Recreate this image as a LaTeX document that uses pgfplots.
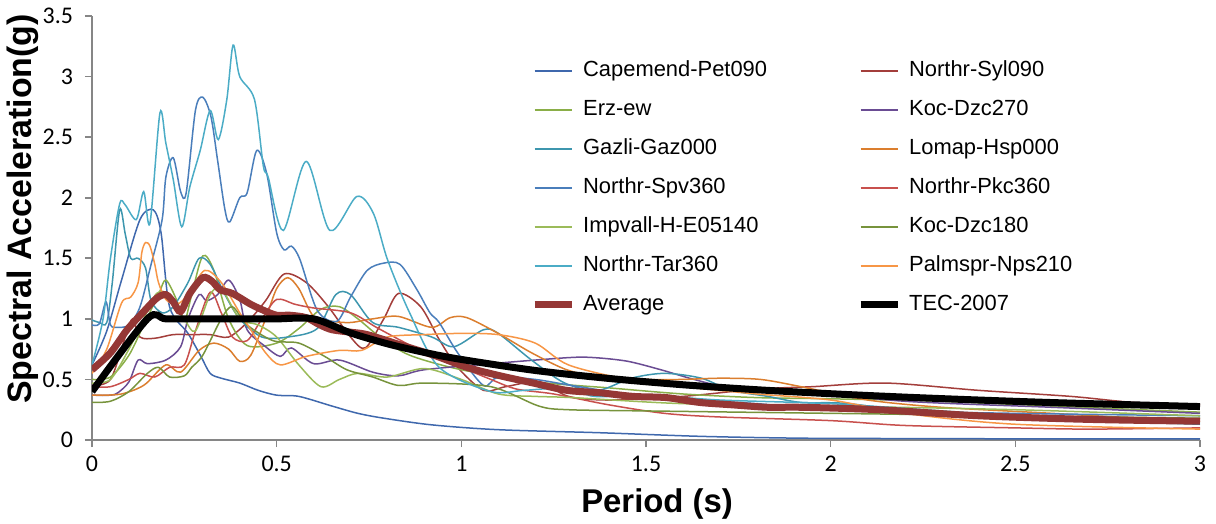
\documentclass[border=0pt]{standalone}
\usepackage{fontspec}
\setmainfont{Liberation Sans}
\newfontfamily\carlito{Carlito}
\usepackage{pgfplots}
\pgfplotsset{compat=1.18}

\definecolor{axisgray}{HTML}{868686}
\definecolor{capemend}{HTML}{3F68AD}
\definecolor{syl}{HTML}{A33E3B}
\definecolor{erz}{HTML}{8AAE48}
\definecolor{kocb}{HTML}{6A4C93}
\definecolor{gazli}{HTML}{3D96AE}
\definecolor{lomap}{HTML}{DB7E2E}
\definecolor{spv}{HTML}{4A7EBB}
\definecolor{pkc}{HTML}{C8504D}
\definecolor{impvall}{HTML}{9BBB59}
\definecolor{koca}{HTML}{77933C}
\definecolor{tar}{HTML}{4BACC6}
\definecolor{palm}{HTML}{F79646}
\definecolor{avg}{HTML}{953735}

\begin{document}
\begin{tikzpicture}
\useasboundingbox (-46bp,-42bp) rectangle (562bp,220bp);
\begin{axis}[
    width=554bp, height=212bp, scale only axis,
    xmin=0, xmax=3, ymin=0, ymax=3.5,
    axis lines*=left,
    axis line style={draw=axisgray, line width=0.8bp},
    xtick={0,0.5,1,1.5,2,2.5,3},
    ytick={0,0.5,1,1.5,2,2.5,3,3.5},
    tick align=outside, major tick length=3.5bp,
    tick style={draw=axisgray, line width=0.8bp},
    tick label style={font=\carlito\fontsize{12}{14}\selectfont},
    /pgf/number format/assume math mode=true,
    yticklabel style={xshift=-2.5bp},
    xticklabel style={yshift=-1bp},
    xlabel={Period (s)},
    ylabel={Spectral Acceleration(g)},
    xlabel style={font=\bfseries\fontsize{16.5}{18}\selectfont, at={(axis description cs:0.51,-0.151)}, anchor=center},
    ylabel style={font=\bfseries\fontsize{17}{19}\selectfont, at={(axis description cs:-0.0625,0.545)}, anchor=center},
    legend cell align=left,
    legend columns=2,
    legend image code/.code={\draw[#1] (0bp,0bp) -- (18.5bp,0bp); \path (21.5bp,0bp);},
    legend style={draw=none, fill=none, inner sep=0pt,
        at={(axis description cs:0.396,0.901)}, anchor=north west,
        font=\fontsize{11}{13}\selectfont, row sep=7bp,
        nodes={inner sep=1pt, text height=8bp, text depth=2.5bp},
        /tikz/every even column/.append style={column sep=44bp}},
    every axis plot/.append style={smooth, line width=0.75bp},
]

% Capemend-Pet090
\addplot[capemend] coordinates {
(0,0.62)(0.04,0.9)(0.08,1.32)(0.13,1.82)(0.166,1.9)(0.187,1.71)(0.21,1.10)(0.26,0.88)
(0.295,0.69)(0.32,0.55)(0.35,0.51)(0.4,0.47)(0.45,0.41)(0.5,0.37)(0.56,0.36)(0.65,0.28)
(0.72,0.22)(0.79,0.18)(0.92,0.125)(1.1,0.085)(1.375,0.06)(1.65,0.03)(1.92,0.015)
(2.2,0.012)(2.5,0.01)(3,0.01)};

% Northr-Syl090
\addplot[syl] coordinates {
(0,0.45)(0.05,0.5)(0.09,0.85)(0.11,1.0)(0.13,0.85)(0.17,0.84)(0.22,0.87)(0.27,0.87)
(0.32,0.87)(0.37,0.85)(0.42,0.97)(0.47,1.15)(0.52,1.37)(0.58,1.3)(0.64,1.1)(0.7,0.85)
(0.74,0.76)(0.79,1.0)(0.83,1.21)(0.89,1.1)(0.94,0.83)(0.99,0.6)(1.06,0.41)(1.12,0.44)
(1.21,0.48)(1.29,0.36)(1.4,0.33)(1.6,0.36)(1.8,0.42)(1.95,0.44)(2.15,0.47)(2.4,0.41)
(2.65,0.36)(2.82,0.31)(3,0.29)};

% Erz-ew
\addplot[erz] coordinates {
(0,0.5)(0.05,0.52)(0.1,0.7)(0.14,0.95)(0.18,1.2)(0.2,1.32)(0.23,1.15)(0.25,0.98)
(0.27,1.2)(0.3,1.52)(0.33,1.4)(0.37,1.0)(0.42,0.78)(0.5,0.8)(0.56,0.92)(0.62,1.08)
(0.67,1.1)(0.72,1.0)(0.78,0.85)(0.86,0.7)(1.0,0.58)(1.2,0.48)(1.4,0.43)(1.6,0.38)
(1.8,0.35)(2.0,0.34)(2.3,0.32)(2.6,0.28)(3,0.23)};

% Koc-Dzc270
\addplot[kocb] coordinates {
(0,0.37)(0.05,0.37)(0.07,0.39)(0.1,0.48)(0.125,0.66)(0.15,0.63)(0.2,0.66)(0.24,0.77)
(0.26,1.0)(0.29,1.2)(0.31,1.15)(0.34,1.2)(0.37,1.32)(0.40,1.16)(0.42,0.91)(0.47,0.77)
(0.51,0.69)(0.54,0.76)(0.6,0.63)(0.67,0.66)(0.76,0.56)(0.83,0.53)(0.9,0.58)(1.08,0.63)
(1.29,0.68)(1.36,0.68)(1.45,0.65)(1.54,0.58)(1.63,0.50)(1.72,0.44)(1.9,0.41)(2.2,0.32)
(2.6,0.27)(3,0.22)};

% Gazli-Gaz000
\addplot[gazli] coordinates {
(0,0.99)(0.02,0.97)(0.04,0.97)(0.055,1.3)(0.075,1.9)(0.09,1.7)(0.105,1.5)(0.125,1.5)
(0.145,1.42)(0.16,1.15)(0.19,1.05)(0.22,1.1)(0.26,1.3)(0.29,1.5)(0.32,1.45)(0.36,1.2)
(0.4,1.0)(0.46,0.85)(0.53,0.85)(0.61,0.92)(0.66,1.2)(0.7,1.2)(0.76,0.97)(0.83,0.93)
(0.92,0.85)(0.98,0.77)(1.06,0.91)(1.1,0.88)(1.19,0.66)(1.28,0.47)(1.37,0.41)(1.46,0.51)
(1.55,0.55)(1.65,0.51)(1.73,0.41)(1.83,0.36)(1.92,0.31)(2.05,0.3)(2.3,0.2)(2.6,0.17)(3,0.13)};

% Lomap-Hsp000
\addplot[lomap] coordinates {
(0,0.37)(0.04,0.37)(0.08,0.38)(0.12,0.42)(0.148,0.47)(0.2,0.62)(0.24,0.56)(0.29,0.74)
(0.33,0.8)(0.37,0.75)(0.4,0.65)(0.43,0.7)(0.47,1.0)(0.5,1.25)(0.53,1.34)(0.56,1.25)
(0.6,1.02)(0.65,0.98)(0.7,0.97)(0.76,1.0)(0.83,1.02)(0.92,0.93)(0.97,1.01)(1.015,1.01)
(1.1,0.88)(1.19,0.72)(1.285,0.58)(1.375,0.52)(1.5,0.5)(1.6,0.5)(1.7,0.51)(1.81,0.5)
(1.92,0.44)(2.1,0.33)(2.3,0.27)(2.6,0.22)(3,0.15)};

% Northr-Spv360
\addplot[spv] coordinates {
(0,0.95)(0.02,0.96)(0.038,1.14)(0.05,0.95)(0.07,0.93)(0.1,0.95)(0.13,1.1)(0.16,1.45)
(0.19,1.82)(0.2,2.17)(0.22,2.33)(0.24,2.05)(0.255,2.04)(0.28,2.72)(0.30,2.83)(0.322,2.67)
(0.34,2.31)(0.36,1.9)(0.373,1.8)(0.40,2.0)(0.42,2.04)(0.446,2.39)(0.473,2.2)(0.5,1.71)
(0.52,1.57)(0.54,1.6)(0.563,1.49)(0.61,1.07)(0.663,0.98)(0.70,1.18)(0.745,1.40)(0.79,1.46)
(0.834,1.45)(0.88,1.24)(0.915,1.05)(0.94,0.97)(0.99,0.72)(1.06,0.45)(1.10,0.52)(1.2,0.5)
(1.3,0.45)(1.5,0.36)(1.8,0.3)(2.0,0.25)(2.5,0.22)(3,0.2)};

% Northr-Pkc360
\addplot[pkc] coordinates {
(0,0.44)(0.05,0.44)(0.1,0.5)(0.13,0.55)(0.17,0.52)(0.21,0.6)(0.25,0.62)(0.28,0.9)
(0.32,1.22)(0.35,1.05)(0.38,0.85)(0.42,0.82)(0.46,1.0)(0.5,1.16)(0.55,1.12)(0.6,1.09)
(0.7,1.05)(0.77,0.93)(0.85,0.8)(0.92,0.7)(1.0,0.6)(1.08,0.5)(1.15,0.42)(1.25,0.38)
(1.4,0.29)(1.55,0.22)(1.7,0.19)(2.0,0.16)(2.2,0.12)(2.5,0.1)(2.7,0.09)(3,0.1)};

% Impvall-H-E05140
\addplot[impvall] coordinates {
(0,0.47)(0.05,0.5)(0.1,0.75)(0.14,1.0)(0.175,1.21)(0.21,1.2)(0.25,1.0)(0.28,0.9)
(0.32,1.2)(0.35,1.25)(0.4,1.0)(0.45,0.95)(0.5,0.85)(0.56,0.62)(0.62,0.44)(0.67,0.5)
(0.72,0.55)(0.8,0.52)(0.9,0.59)(1.0,0.5)(1.1,0.38)(1.2,0.36)(1.3,0.35)(1.6,0.3)
(2.0,0.28)(2.5,0.25)(3,0.2)};

% Koc-Dzc180
\addplot[koca] coordinates {
(0,0.31)(0.05,0.32)(0.1,0.4)(0.15,0.55)(0.18,0.6)(0.21,0.52)(0.25,0.53)(0.27,0.6)
(0.3,0.7)(0.35,1.0)(0.38,1.1)(0.42,0.95)(0.49,0.82)(0.56,0.8)(0.63,0.69)(0.69,0.58)
(0.76,0.52)(0.83,0.45)(0.9,0.47)(1.08,0.44)(1.21,0.28)(1.29,0.25)(1.5,0.24)(2.0,0.22)
(2.5,0.2)(3,0.18)};

% Northr-Tar360
\addplot[tar] coordinates {
(0,0.62)(0.03,1.0)(0.05,1.5)(0.075,1.95)(0.09,1.94)(0.12,1.82)(0.14,2.05)(0.157,1.79)
(0.184,2.70)(0.2,2.45)(0.22,2.15)(0.243,1.76)(0.265,2.09)(0.293,2.39)(0.32,2.72)(0.342,2.48)
(0.365,2.81)(0.382,3.26)(0.40,3.0)(0.44,2.81)(0.464,2.26)(0.477,2.17)(0.518,1.73)(0.58,2.30)
(0.644,1.73)(0.717,2.01)(0.762,1.87)(0.80,1.49)(0.86,1.05)(0.94,0.60)(1.08,0.40)(1.17,0.41)
(1.29,0.43)(1.36,0.36)(1.51,0.37)(1.7,0.33)(2.0,0.3)(2.3,0.24)(2.6,0.18)(3,0.14)};

% Palmspr-Nps210
\addplot[palm] coordinates {
(0,0.55)(0.04,0.75)(0.08,1.13)(0.105,1.18)(0.125,1.30)(0.135,1.55)(0.145,1.63)(0.157,1.6)
(0.17,1.45)(0.18,1.30)(0.2,1.16)(0.23,1.12)(0.26,1.2)(0.305,1.40)(0.35,1.3)(0.4,1.05)
(0.43,0.91)(0.47,0.72)(0.51,0.62)(0.58,0.69)(0.67,0.74)(0.73,0.74)(0.8,0.85)(0.9,0.87)
(1.0,0.88)(1.1,0.87)(1.2,0.8)(1.29,0.62)(1.45,0.5)(1.6,0.44)(1.8,0.38)(2.0,0.33)
(2.2,0.22)(2.5,0.13)(3,0.09)};

% Average
\addplot[avg, line width=3.5bp] coordinates {
(0,0.58)(0.05,0.72)(0.095,0.91)(0.14,1.06)(0.175,1.17)(0.2,1.2)(0.22,1.14)(0.24,1.06)
(0.265,1.21)(0.3,1.34)(0.325,1.31)(0.347,1.24)(0.38,1.21)(0.43,1.12)(0.465,1.07)(0.5,1.03)
(0.536,1.03)(0.58,1.01)(0.617,0.95)(0.65,0.91)(0.7,0.89)(0.745,0.87)(0.83,0.79)(0.925,0.70)
(1.015,0.60)(1.105,0.53)(1.195,0.47)(1.285,0.41)(1.375,0.39)(1.465,0.36)(1.555,0.35)
(1.645,0.31)(1.735,0.29)(1.83,0.27)(1.92,0.27)(2.13,0.25)(2.4,0.2)(2.7,0.17)(3,0.155)};

% TEC-2007
\addplot[black, line width=3.5bp] coordinates {
(0,0.4)(0.15,1.0)(0.2,1.0)(0.3,1.0)(0.4,1.0)(0.5,1.0)(0.6,1.0)(0.7,0.884)(0.8,0.794)
(0.9,0.723)(1.0,0.665)(1.2,0.574)(1.4,0.508)(1.6,0.456)(1.8,0.415)(2.0,0.382)(2.2,0.354)
(2.4,0.330)(2.6,0.309)(2.8,0.292)(3.0,0.276)};

\legend{Capemend-Pet090, Northr-Syl090, Erz-ew, Koc-Dzc270, Gazli-Gaz000, Lomap-Hsp000,
Northr-Spv360, Northr-Pkc360, Impvall-H-E05140, Koc-Dzc180, Northr-Tar360, Palmspr-Nps210,
Average, TEC-2007}
\end{axis}
\end{tikzpicture}
\end{document}
